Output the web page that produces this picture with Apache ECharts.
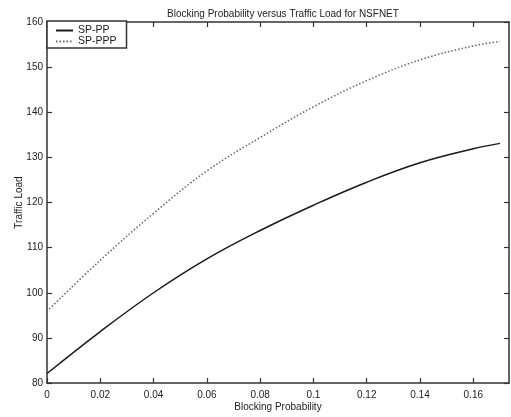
<!DOCTYPE html>
<html>
<head>
<meta charset="utf-8">
<script src="https://cdn.jsdelivr.net/npm/echarts@6/dist/echarts.min.js"></script>
<style>
html,body{margin:0;padding:0;background:#fff;}
#c{width:511px;height:417px;}
</style>
</head>
<body>
<div id="c"></div>
<script>
const blockingProb = [0, 0.02, 0.04, 0.06, 0.08, 0.10, 0.12, 0.14, 0.16, 0.17];
const spPP  = [82.1, 91.4, 100.0, 107.5, 113.8, 119.4, 124.5, 128.8, 131.9, 133.1];
const spPPP = [95.9, 107.2, 117.6, 127.0, 134.4, 141.2, 147.0, 151.6, 154.7, 155.7];
const xTicks = [0, 0.02, 0.04, 0.06, 0.08, 0.1, 0.12, 0.14, 0.16];
const yTicks = [80, 90, 100, 110, 120, 130, 140, 150, 160];

const font = 'Liberation Sans, Arial, sans-serif';
const axisColor = '#333';
const chart = echarts.init(document.getElementById('c'), null, {renderer: 'canvas'});

const xBase = {
  type: 'value', min: 0, max: 0.1734,
  axisLine: {show: true, onZero: false, lineStyle: {color: axisColor, width: 1.5}},
  axisTick: {show: true, inside: true, length: 5, customValues: xTicks, lineStyle: {color: axisColor, width: 1.2}},
  splitLine: {show: false}
};
const yBase = {
  type: 'value', min: 80, max: 160, interval: 10,
  axisLine: {show: true, onZero: false, lineStyle: {color: axisColor, width: 1.5}},
  axisTick: {show: true, inside: true, length: 5, customValues: yTicks, lineStyle: {color: axisColor, width: 1.2}},
  splitLine: {show: false}
};

chart.setOption({
  animation: false,
  backgroundColor: '#fff',
  title: {
    text: 'Blocking Probability versus Traffic Load for NSFNET',
    left: 278, top: 4, textAlign: 'center',
    textStyle: {fontFamily: font, fontSize: 10, fontWeight: 'normal', color: '#222'}
  },
  legend: {
    left: 47, top: 21, orient: 'vertical',
    itemWidth: 17, itemHeight: 9, itemGap: 0,
    padding: [4, 10, 1, 8],
    borderColor: '#333', borderWidth: 1.5, backgroundColor: '#fff',
    itemStyle: {opacity: 0},
    textStyle: {fontFamily: font, fontSize: 10.5, lineHeight: 10, color: '#222'},
    data: ['SP-PP', 'SP-PPP']
  },
  grid: {left: 47, right: 2, top: 22, bottom: 30, containLabel: false},
  xAxis: [
    Object.assign({}, xBase, {
      position: 'bottom',
      name: 'Blocking Probability', nameLocation: 'middle', nameGap: 19, nameMoveOverlap: false,
      nameTextStyle: {fontFamily: font, fontSize: 10, color: '#222'},
      axisLabel: {show: true, margin: 7, customValues: xTicks, fontFamily: font, fontSize: 10, color: '#222',
        formatter: v => String(+v.toFixed(2))}
    }),
    Object.assign({}, xBase, {position: 'top', axisLabel: {show: false}})
  ],
  yAxis: [
    Object.assign({}, yBase, {
      position: 'left',
      name: 'Traffic Load', nameLocation: 'middle', nameGap: 23, nameMoveOverlap: false,
      nameTextStyle: {fontFamily: font, fontSize: 10, color: '#222'},
      axisLabel: {show: true, margin: 4, customValues: yTicks, fontFamily: font, fontSize: 10, color: '#222'}
    }),
    Object.assign({}, yBase, {position: 'right', axisLabel: {show: false}})
  ],
  series: [
    {
      name: 'SP-PP', type: 'line', xAxisIndex: 0, yAxisIndex: 0,
      data: blockingProb.map((x, i) => [x, spPP[i]]),
      smooth: 0.4, symbol: 'none',
      lineStyle: {color: '#1a1a1a', width: 1.5, type: 'solid'},
      itemStyle: {color: '#1a1a1a'}
    },
    {
      name: 'SP-PPP', type: 'line', xAxisIndex: 0, yAxisIndex: 0,
      data: blockingProb.map((x, i) => [x, spPPP[i]]),
      smooth: 0.4, symbol: 'none',
      lineStyle: {color: '#666', width: 1.5, type: [1.5, 2]},
      itemStyle: {color: '#666'}
    }
  ]
});
</script>
</body>
</html>
